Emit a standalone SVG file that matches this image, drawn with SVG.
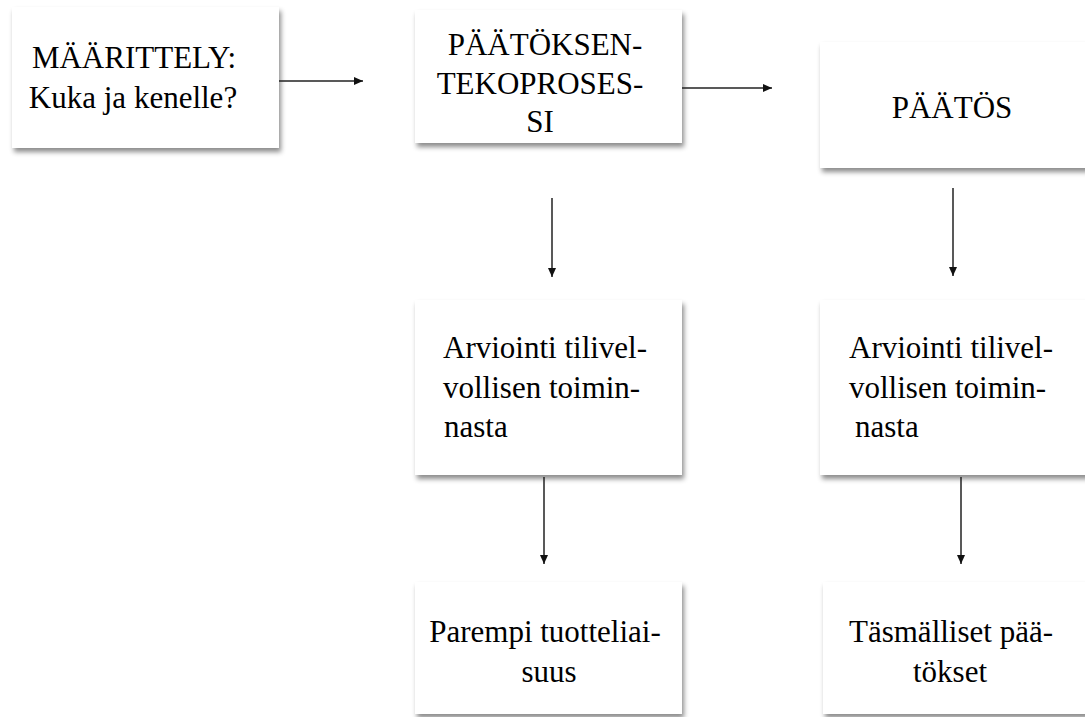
<svg xmlns="http://www.w3.org/2000/svg" width="1085" height="717" viewBox="0 0 1085 717">
<style>
.box{fill:#fff;filter:url(#sh)}
.c{text-anchor:middle}
.ln{stroke:#222;stroke-width:1.5;fill:none;marker-end:url(#ah)}
</style>
<defs>
<filter id="sh" x="-10%" y="-10%" width="130%" height="130%">
<feDropShadow dx="2" dy="4" stdDeviation="2.5" flood-color="#000" flood-opacity="0.45"/>
</filter>
<marker id="ah" markerUnits="userSpaceOnUse" markerWidth="10" markerHeight="10" refX="9" refY="4" orient="auto">
<path d="M0,0 L9,4 L0,8 Z" fill="#111"/>
</marker>
</defs>
<rect width="1085" height="717" fill="#fff"/>
<g font-family="'Liberation Serif', Tinos, 'DejaVu Serif', serif" font-size="31" fill="#000">
<g id="n1"><rect class="box" x="12" y="7" width="267" height="141"/>
<text class="c" x="134" y="68">MÄÄRITTELY:</text>
<text class="c" x="133" y="108">Kuka ja kenelle?</text></g>
<g id="n2"><rect class="box" x="415" y="10" width="267" height="133"/>
<text class="c" x="545" y="55">PÄÄTÖKSEN-</text>
<text class="c" x="540" y="94">TEKOPROSES-</text>
<text class="c" x="540" y="132">SI</text></g>
<g id="n3"><rect class="box" x="820" y="42" width="275" height="126"/>
<text class="c" x="952" y="118">PÄÄTÖS</text></g>
<g id="n4"><rect class="box" x="415" y="300" width="267" height="175"/>
<text x="443" y="358">Arviointi tilivel-</text>
<text x="443" y="398">vollisen toimin-</text>
<text x="444" y="437">nasta</text></g>
<g id="n5"><rect class="box" x="820" y="300" width="275" height="175"/>
<text x="849" y="358">Arviointi tilivel-</text>
<text x="849" y="398">vollisen toimin-</text>
<text x="855" y="437">nasta</text></g>
<g id="n6"><rect class="box" x="415" y="582" width="267" height="132"/>
<text class="c" x="545" y="642">Parempi tuotteliai-</text>
<text class="c" x="549" y="682">suus</text></g>
<g id="n7"><rect class="box" x="823" y="582" width="272" height="132"/>
<text class="c" x="951" y="642">Täsmälliset pää-</text>
<text class="c" x="950" y="682">tökset</text></g>
</g>
<g id="connectors">
<line class="ln" x1="279" y1="81" x2="363" y2="81"/>
<line class="ln" x1="682" y1="88" x2="772" y2="88"/>
<line class="ln" x1="552" y1="198" x2="552" y2="277"/>
<line class="ln" x1="953" y1="188" x2="953" y2="276"/>
<line class="ln" x1="544" y1="477" x2="544" y2="564"/>
<line class="ln" x1="961" y1="477" x2="961" y2="564"/>
</g>
</svg>
